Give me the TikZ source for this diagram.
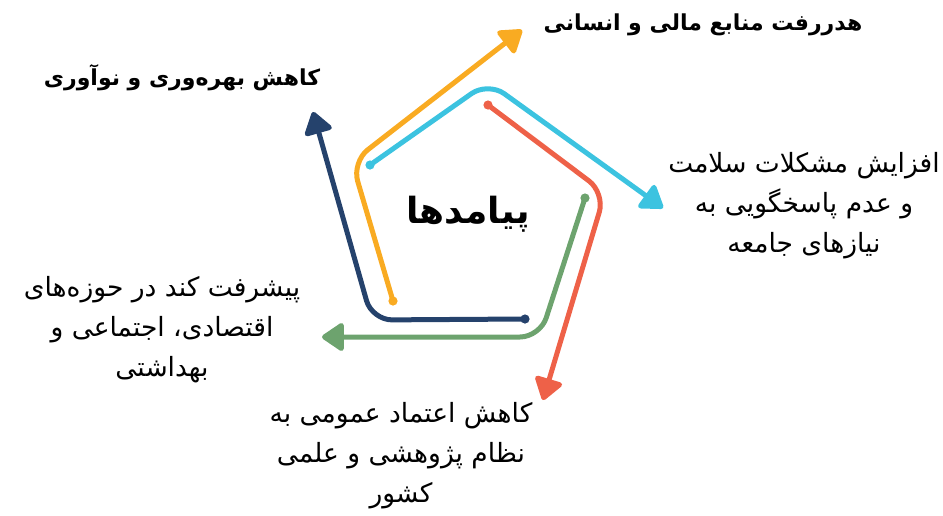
\documentclass[tikz,border=0pt]{standalone}
\usepackage{fontspec}
\usetikzlibrary{arrows.meta}
\TeXXeTstate=1
\newfontfamily\fa[Script=Arabic]{DejaVu Sans}
\definecolor{cyanc}{HTML}{3CC3E0}
\definecolor{orangec}{HTML}{F9AB22}
\definecolor{redc}{HTML}{EE6148}
\definecolor{greenc}{HTML}{6DA36E}
\definecolor{navyc}{HTML}{25426C}
\tikzset{
  flow/.style={line width=5pt, rounded corners=20pt, line cap=round,
    -{Triangle[length=24pt,width=31pt,round]}},
  lbl/.style={font=\fa\fontsize{26.5}{40}\selectfont, align=center, inner sep=0pt},
  blbl/.style={font=\fa\bfseries\fontsize{22}{30}\selectfont, inner sep=0pt},
}
\newcommand{\rl}[1]{\beginR #1\endR}
\begin{document}
\begin{tikzpicture}[x=1pt,y=-1pt]
\useasboundingbox (0,0) rectangle (943,515);
% coordinates
\coordinate (cs) at (370,165); \coordinate (cm) at (488,82); \coordinate (ce) at (663,208);
\coordinate (os) at (393,301); \coordinate (om) at (352,162); \coordinate (oe) at (522,30);
\coordinate (rs) at (488,105); \coordinate (rm) at (605,193); \coordinate (re) at (543,400);
\coordinate (gs) at (585,198); \coordinate (gm) at (540,337); \coordinate (ge) at (322,337);
\coordinate (ns) at (525,319); \coordinate (nm) at (372,320); \coordinate (ne) at (313,112);
% arrows
\draw[flow, orangec] (os) -- (om) -- (oe);
\fill[orangec] (os) circle (4.6pt);
\draw[flow, navyc] (ns) -- (nm) -- (ne);
\fill[navyc] (ns) circle (4.6pt);
\draw[flow, greenc] (gs) -- (gm) -- (ge);
\fill[greenc] (gs) circle (4.6pt);
\draw[flow, redc] (rs) -- (rm) -- (re);
\fill[redc] (rs) circle (4.6pt);
\draw[flow, cyanc] (cs) -- (cm) -- (ce);
\fill[cyanc] (cs) circle (4.6pt);
% center
\node[font=\fa\bfseries\fontsize{36}{40}\selectfont, inner sep=0pt] (center) at (468,214) {\rl{پیامدها}};
% labels
\node[blbl] (t1) at (703,25) {\rl{هدررفت منابع مالی و انسانی}};
\node[blbl] (t2) at (182,78) {\rl{کاهش بهره‌وری و نوآوری}};
\node[lbl] (t3) at (804,206) {\rl{افزایش مشکلات سلامت}\\\rl{و عدم پاسخگویی به}\\\rl{نیازهای جامعه}};
\node[lbl] (t4) at (401,456) {\rl{کاهش اعتماد عمومی به}\\\rl{نظام پژوهشی و علمی}\\\rl{کشور}};
\node[lbl] (t5) at (162,330) {\rl{پیشرفت کند در حوزه‌های}\\\rl{اقتصادی، اجتماعی و}\\\rl{بهداشتی}};
\end{tikzpicture}
\end{document}
